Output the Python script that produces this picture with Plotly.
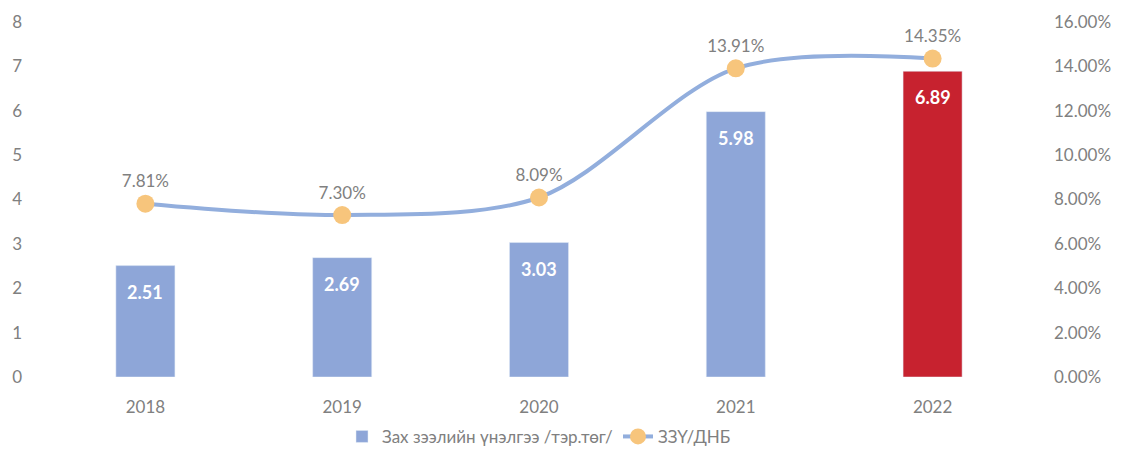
import plotly.graph_objects as go

years = ["2018", "2019", "2020", "2021", "2022"]
loan_value = [2.51, 2.69, 3.03, 5.98, 6.89]
debt_to_gdp = [7.81, 7.30, 8.09, 13.91, 14.35]
left_ticks = [0, 1, 2, 3, 4, 5, 6, 7, 8]
right_ticks = [0, 2, 4, 6, 8, 10, 12, 14, 16]

bar_colors = ["#8EA6D8"] * 4 + ["#C7222F"]
grey = "#808080"
font_family = "Lato, 'Open Sans', sans-serif"

fig = go.Figure()
fig.add_trace(go.Bar(
    x=years,
    y=loan_value,
    name="Зах зээлийн үнэлгээ /тэр.төг/",
    marker_color=bar_colors,
    width=0.3,
    hoverinfo="skip",
))
fig.add_trace(go.Scatter(
    x=years,
    y=debt_to_gdp,
    name="ЗЗҮ/ДНБ",
    yaxis="y2",
    mode="lines+markers+text",
    line=dict(color="#92AEDD", width=4, shape="spline", smoothing=0.9),
    marker=dict(color="#F7C57C", size=18),
    text=[f"{v:.2f}%" for v in debt_to_gdp],
    textposition="top center",
    textfont=dict(size=17, color=grey),
))

# white value labels inside the bars (x given as category index:
# numeric-looking strings would be read as indices on a category axis)
for i, v in enumerate(loan_value):
    fig.add_annotation(
        x=i, y=v, yref="y", yshift=-26, showarrow=False,
        text=f"<b>{v:.2f}</b>",
        font=dict(size=18, color="white", family=font_family),
    )

# page body has an 8px margin, so the figure is sized/placed to compensate
fig.update_layout(
    width=1129,
    height=446,
    plot_bgcolor="white",
    paper_bgcolor="white",
    margin=dict(l=39, r=106, t=14, b=77, autoexpand=False),
    font=dict(family=font_family, size=17, color=grey),
    showlegend=True,
    legend=dict(
        orientation="h", x=0.5, xanchor="center", y=-0.118, yanchor="top",
        font=dict(size=17, color=grey),
    ),
    xaxis=dict(
        type="category", automargin=False,
        showgrid=False, showline=False, ticks="",
        ticklabelstandoff=18,
        tickfont=dict(size=17, color=grey),
    ),
    yaxis=dict(
        range=[0, 8], tickvals=left_ticks, showgrid=False, zeroline=False,
        automargin=False, ticklabelstandoff=24,
        tickfont=dict(size=17, color=grey),
    ),
    yaxis2=dict(
        range=[0, 16], tickvals=right_ticks,
        ticktext=[f"{t:.2f}%" for t in right_ticks],
        overlaying="y", side="right", showgrid=False, zeroline=False,
        automargin=False, ticklabelstandoff=22,
        tickfont=dict(size=17, color=grey),
    ),
)

fig.write_html("out.html")
